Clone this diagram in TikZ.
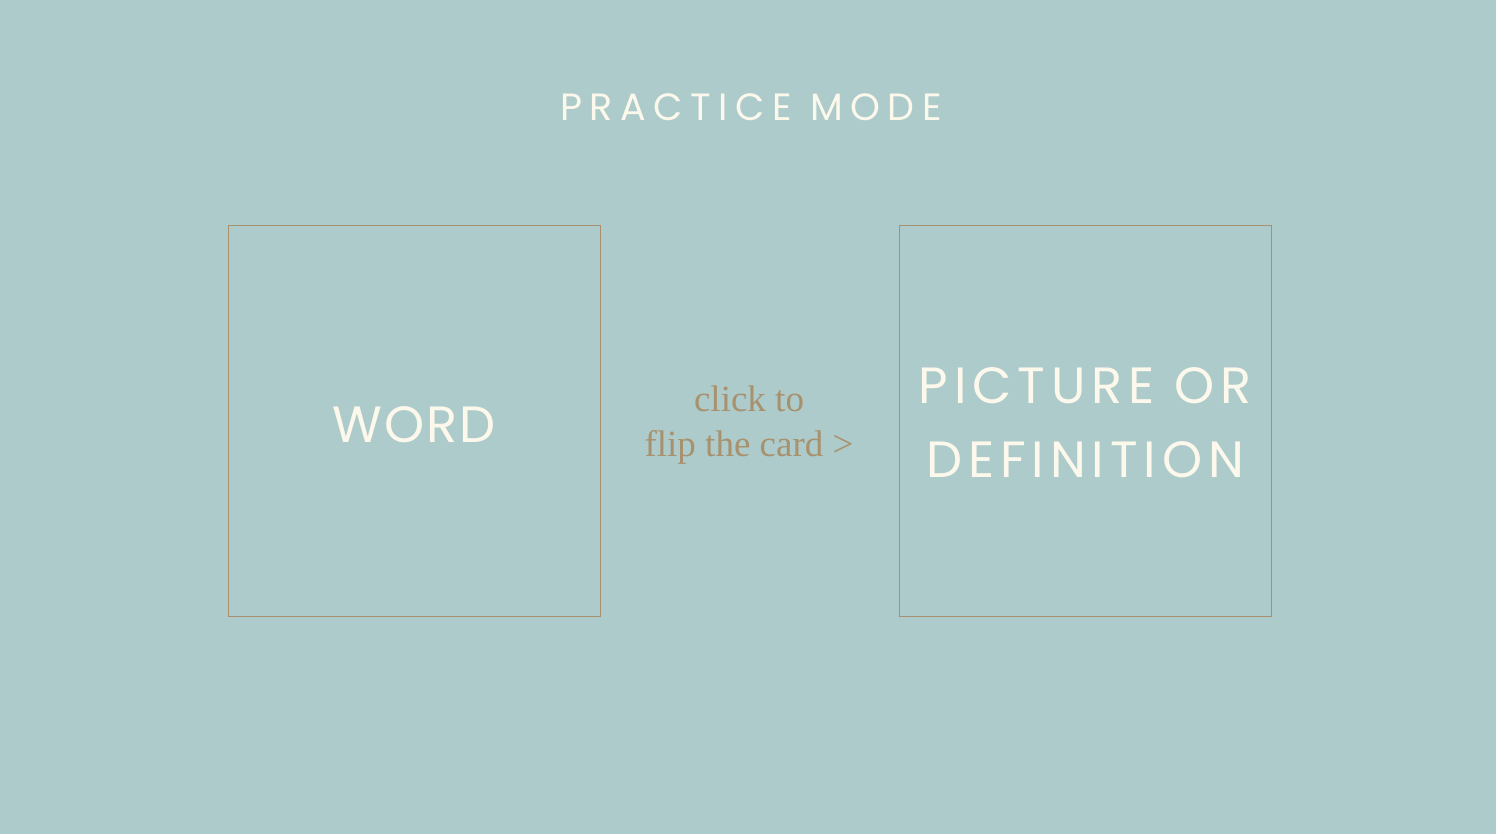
\documentclass[tikz,border=0pt]{standalone}
\usepackage{fontspec}
\setmainfont{Liberation Serif}
\newfontfamily\titlefont[LetterSpace=20]{Poppins}
\newfontfamily\cardfont[LetterSpace=11.5]{Poppins}
\newfontfamily\wordfont[LetterSpace=4]{Poppins}
\definecolor{bgc}{HTML}{ADCBCB}
\definecolor{cream}{HTML}{FCF8EC}
\definecolor{tan}{HTML}{A8916E}
\begin{document}
\begin{tikzpicture}[x=1pt,y=-1pt,
  card/.style={draw=tan,line width=1pt,minimum width=372pt,minimum height=390pt,inner sep=0pt},
  cardtext/.style={text=cream,align=center,inner sep=0pt,font=\cardfont\fontsize{51}{74}\selectfont},
  hint/.style={text=tan,align=center,inner sep=0pt,font=\fontsize{37}{45}\selectfont}]
\fill[bgc] (0,0) rectangle (1496,834);
\useasboundingbox (0,0) rectangle (1496,834);
\node[text=cream,inner sep=0pt,font=\titlefont\fontsize{38}{38}\selectfont] (title) at (751,107) {PRACTICE MODE};
\node[card] (front) at (414,421) {};
\node[card] (back) at (1085,421) {};
\node[cardtext,font=\wordfont\fontsize{51}{74}\selectfont] (word) at ([yshift=-3.5pt]front.center) {WORD};
\node[cardtext] (def) at ([yshift=-2pt]back.center) {PICTURE OR\\DEFINITION};
\node[hint] (flip) at (749,425) {click to\\flip the card >};
\end{tikzpicture}
\end{document}
